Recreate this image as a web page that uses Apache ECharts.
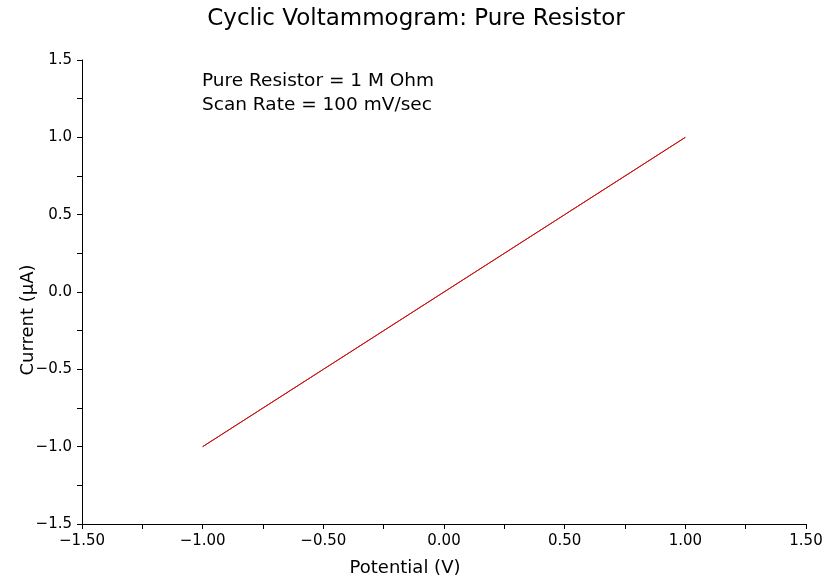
<!DOCTYPE html>
<html><head><meta charset="utf-8">
<script src="https://cdn.jsdelivr.net/npm/echarts@6/dist/echarts.min.js"></script>
<style>html,body{margin:0;padding:0;background:#fff}#c{width:832px;height:586px}</style>
</head><body><div id="c"></div>
<script>
// Sweep: forward -1 V -> +1 V, reverse +1 V -> -1 V (overlapping for a pure resistor)
const potential = [-1.0, -0.5, 0.0, 0.5, 1.0, 0.5, 0.0, -0.5, -1.0];
const current   = [-1.0, -0.5, 0.0, 0.5, 1.0, 0.5, 0.0, -0.5, -1.0];
const titleText = 'Cyclic Voltammogram: Pure Resistor';
const noteLines = ['Pure Resistor = 1 M Ohm', 'Scan Rate = 100 mV/sec'];
const xName = 'Potential (V)';
const yName = 'Current (\u00b5A)';

const FONT = 'DejaVu Sans';
const chart = echarts.init(document.getElementById('c'));
const axisCommon = {
  axisLine: {show: true, onZero: false, lineStyle: {color: '#000', width: 1}},
  axisTick: {show: true, inside: false, length: 5, lineStyle: {color: '#000'}},
  minorTick: {show: true, splitNumber: 2, length: 5, lineStyle: {color: '#000'}},
  splitLine: {show: false},
  nameMoveOverlap: false,
};
chart.setOption({
  animation: false,
  backgroundColor: '#fff',
  title: [
    {text: titleText, left: 'center', top: 3,
     textStyle: {fontFamily: FONT, fontSize: 23, fontWeight: 'normal', color: '#000'}},
    {text: noteLines.join('\n'), left: 197, top: 64,
     textStyle: {fontFamily: FONT, fontSize: 18.5, fontWeight: 'normal', color: '#000', lineHeight: 24}}
  ],
  grid: {left: 82, right: 26, top: 60, bottom: 62},
  xAxis: Object.assign({}, axisCommon, {
    type: 'value', min: -1.5, max: 1.5, interval: 0.5,
    name: xName, nameLocation: 'middle', nameGap: 35,
    nameTextStyle: {color: '#000', fontFamily: FONT, fontSize: 18, padding: [0, 78, 0, 0]},
    axisLabel: {color: '#000', fontFamily: FONT, fontSize: 15, margin: 10,
      formatter: v => v.toFixed(2).replace('-', '\u2212')}
  }),
  yAxis: Object.assign({}, axisCommon, {
    type: 'value', min: -1.5, max: 1.5, interval: 0.5,
    name: yName, nameLocation: 'middle', nameGap: 45,
    nameTextStyle: {color: '#000', fontFamily: FONT, fontSize: 18, padding: [0, 56, 0, 0]},
    axisLabel: {color: '#000', fontFamily: FONT, fontSize: 15, margin: 10,
      formatter: v => v.toFixed(1).replace('-', '\u2212')}
  }),
  series: [{
    type: 'line', showSymbol: false,
    data: potential.map((p, i) => [p, current[i]]),
    lineStyle: {color: '#cc1111', width: 1},
    itemStyle: {color: '#cc1111'}
  }]
});
</script></body></html>
